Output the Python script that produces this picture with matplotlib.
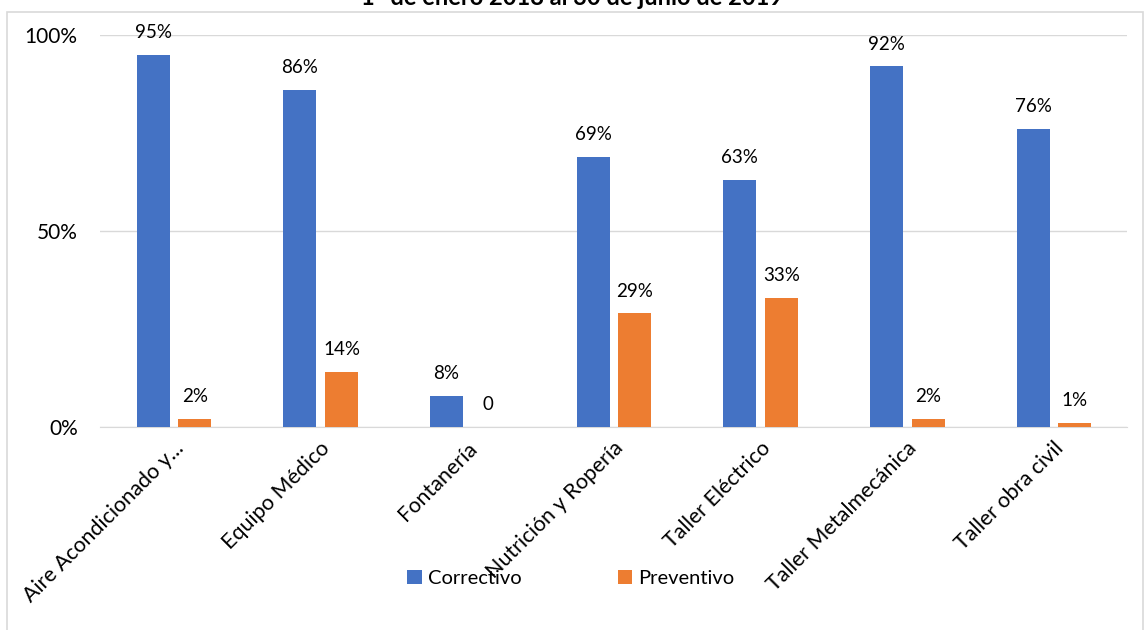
import numpy as np
import matplotlib.pyplot as plt
from matplotlib.patches import Rectangle

categorias = ["Aire Acondicionado y...", "Equipo Médico", "Fontanería", "Nutrición y Ropería",
              "Taller Eléctrico", "Taller Metalmecánica", "Taller obra civil"]
correctivo = [95, 86, 8, 69, 63, 92, 76]
preventivo = [2, 14, 0, 29, 33, 2, 1]
etiq_prev = ["2%", "14%", "0", "29%", "33%", "2%", "1%"]

plt.rcParams['font.family'] = ['Lato', 'DejaVu Sans']

fig = plt.figure(figsize=(11.45, 6.3), dpi=100)
ax = fig.add_axes([0.0873, 0.3222, 0.8967, 0.6222])

x = np.arange(len(categorias))
w = 0.225
azul = "#4472c4"
naranja = "#ed7d31"
b1 = ax.bar(x - 0.137, correctivo, w, color=azul, label="Correctivo", zorder=3)
b2 = ax.bar(x + 0.147, preventivo, w, color=naranja, label="Preventivo", zorder=3)

for xi, v in zip(x, correctivo):
    ax.text(xi - 0.137, v + 3.5, f"{v}%", ha='center', va='bottom', fontsize=13.5, clip_on=False)
for xi, v, t in zip(x, preventivo, etiq_prev):
    ax.text(xi + 0.147, v + 3.5, t, ha='center', va='bottom', fontsize=13.5, clip_on=False)

ax.set_xlim(-0.5, len(categorias) - 0.5)
ax.set_ylim(0, 100)
ax.set_yticks([0, 50, 100])
ax.set_yticklabels(["0%", "50%", "100%"], fontsize=15)
ax.yaxis.grid(True, color="#d9d9d9", lw=1, zorder=0)
ax.set_xticks(x)
ax.set_xticklabels(categorias, rotation=45, ha='right', rotation_mode='anchor', fontsize=15.5)
ax.tick_params(axis='x', length=0, pad=8)
ax.tick_params(axis='y', length=0, pad=16)
for s in ['top', 'right', 'left']:
    ax.spines[s].set_visible(False)
ax.spines['bottom'].set_color("#d9d9d9")

leg = fig.legend(handles=[b1, b2], loc='center', bbox_to_anchor=(0.4985, 0.082), ncol=2,
                 frameon=False, fontsize=14.5, handlelength=0.7, handleheight=0.7,
                 handletextpad=0.3, columnspacing=4.8)

fig.text(0.5, 1 - 5 / 630, "1° de enero 2018 al 30 de junio de 2019", ha='center', va='baseline',
         fontsize=17, fontweight='bold')

fig.patches.append(Rectangle((7 / 1145, -0.05), 1136 / 1145, 1.05 - 12 / 630,
                             transform=fig.transFigure, fill=False, edgecolor="#d9d9d9", lw=1.2))

fig.savefig("out.png", dpi=100)
